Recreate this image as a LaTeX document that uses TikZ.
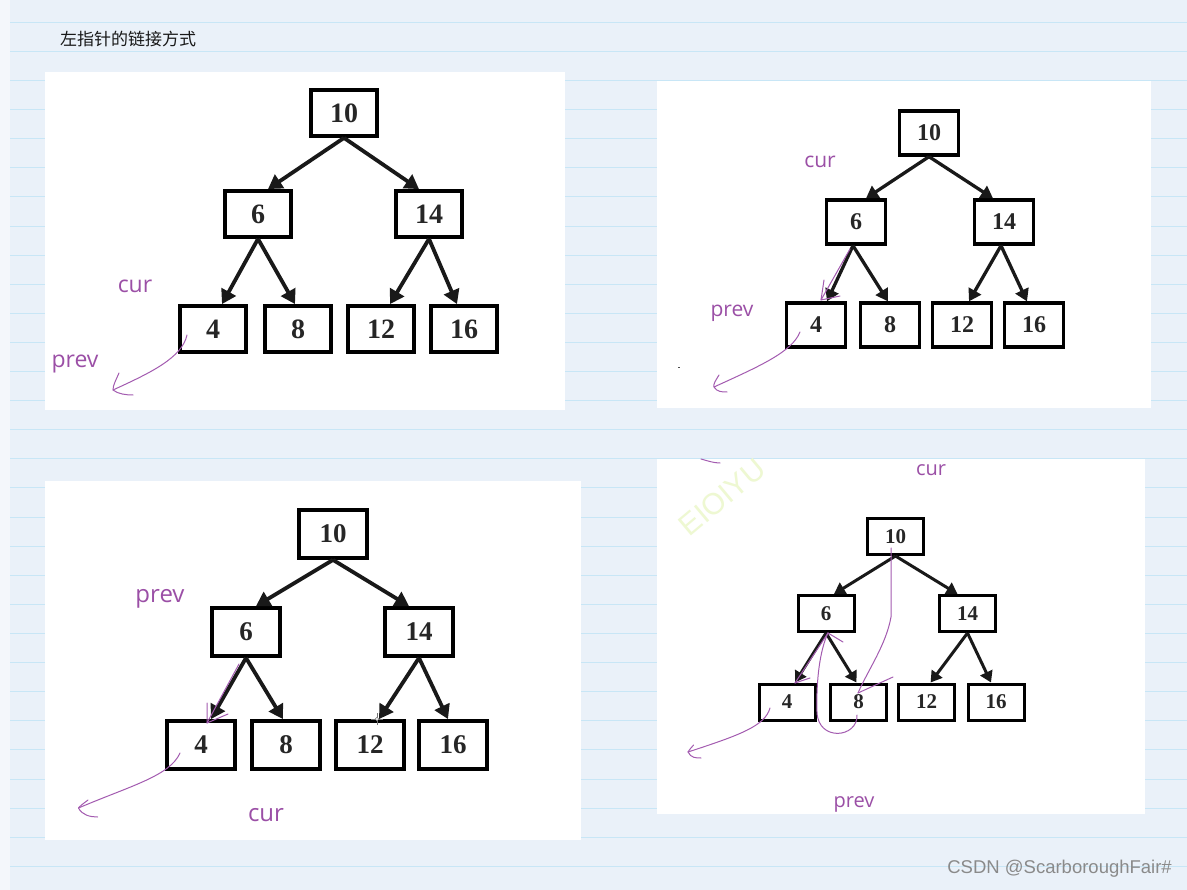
\documentclass[tikz,border=0pt]{standalone}
\usepackage{fontspec}
\setmainfont{Liberation Serif}
\newfontfamily\labelfont{Open Sans}
\newfontfamily\cjk{Noto Sans CJK SC}
\newfontfamily\wmfont{Liberation Sans}
\usetikzlibrary{arrows.meta}
\definecolor{pagebg}{HTML}{EAF1F9}
\definecolor{stripbg}{HTML}{F4F7FB}
\definecolor{rulec}{HTML}{C8E6F6}
\definecolor{penc}{HTML}{A35BB0}
\definecolor{labc}{HTML}{9B4FA6}
\definecolor{wmc}{HTML}{EEF8D2}
\definecolor{csdnc}{HTML}{8A8A8A}
\tikzset{
  tbox/.style={draw=black, fill=white, line width=3.8pt, inner sep=0pt,
    minimum width=66pt, minimum height=46pt,
    font=\bfseries\fontsize{28}{30}\selectfont, text=black!85},
  tedge/.style={line width=3.8pt, black!90, -{Triangle[length=14pt,width=16pt]}},
  pen/.style={draw=penc, line width=1pt, line cap=round, line join=round},
  lbl/.style={text=labc, inner sep=0pt, font=\labelfont\fontsize{23}{25}\selectfont},
  panel/.style={fill=white, draw=none},
  rule/.style={draw=rulec, line width=1pt},
}
\begin{document}
\begin{tikzpicture}[x=1pt,y=-1pt]
\useasboundingbox (0,0) rectangle (1187,890);
% page background
\fill[pagebg] (0,0) rectangle (1187,890);
\fill[stripbg] (0,0) rectangle (10,890);
\foreach \k in {0,...,29} {
  \draw[rule] (10,{22.4+29.1*\k}) -- (1187,{22.4+29.1*\k});
}
% title
\node[anchor=west, inner sep=0pt, font=\cjk\fontsize{17}{19}\selectfont, text=black!90] (title) at (60,39) {左指针的链接方式};

% panels
\fill[panel] (45,72) rectangle (565,410);
\fill[panel] (657,81) rectangle (1151,408);
\fill[panel] (45,481) rectangle (581,840);
\fill[panel] (657,459) rectangle (1145,814);

% ===== Panel 1 =====
\begin{scope}
\node[tbox] (a10) at (344,113) {10};
\node[tbox] (a6) at (258,214) {6};
\node[tbox] (a14) at (429,214) {14};
\node[tbox] (a4) at (213,329) {4};
\node[tbox] (a8) at (298,329) {8};
\node[tbox] (a12) at (381,329) {12};
\node[tbox] (a16) at (464,329) {16};
\draw[tedge] (a10.south) -- ([xshift=10pt]a6.north);
\draw[tedge] (a10.south) -- ([xshift=-10pt]a14.north);
\draw[tedge] (a6.south) -- ([xshift=9pt]a4.north);
\draw[tedge] (a6.south) -- ([xshift=-3pt]a8.north);
\draw[tedge] (a14.south) -- ([xshift=9pt]a12.north);
\draw[tedge] (a14.south) -- ([xshift=-7pt]a16.north);
\node[lbl] (acur) at (135,286) {cur};
\node[lbl] (aprev) at (75,364) {prev};
\coordinate (ap0) at (187,335);
\coordinate (ap1) at (113,390);
\draw[pen] (ap0) .. controls (182,358) and (150,373) .. (ap1);
\draw[pen] (119,373) .. controls (116,380) and (113,385) .. (ap1) .. controls (118,394) and (126,395) .. (133,395);
\end{scope}

% ===== Panel 2 =====
\begin{scope}[tbox/.append style={minimum width=59pt, minimum height=44pt, line width=3.3pt,
    font=\bfseries\fontsize{24}{26}\selectfont},
  tedge/.append style={line width=3.3pt, -{Triangle[length=12pt,width=14pt]}},
  lbl/.append style={font=\labelfont\fontsize{21}{23}\selectfont}]
\node[tbox] (b10) at (929,133) {10};
\node[tbox] (b6) at (856,222) {6};
\node[tbox] (b14) at (1004,222) {14};
\node[tbox] (b4) at (816,325) {4};
\node[tbox] (b8) at (890,325) {8};
\node[tbox] (b12) at (962,325) {12};
\node[tbox] (b16) at (1034,325) {16};
\draw[tedge] (b10.south) -- ([xshift=10pt]b6.north);
\draw[tedge] (b10.south) -- ([xshift=-11pt]b14.north);
\draw[tedge] ([xshift=-3pt]b6.south) -- ([xshift=11pt]b4.north);
\draw[tedge] ([xshift=-3pt]b6.south) -- ([xshift=-2pt]b8.north);
\draw[tedge] ([xshift=-3pt]b14.south) -- ([xshift=7pt]b12.north);
\draw[tedge] ([xshift=-3pt]b14.south) -- ([xshift=-7pt]b16.north);
\node[lbl] (bcur) at (820,162) {cur};
\node[lbl] (bprev) at (732,313) {prev};
\coordinate (bq0) at (850,249);
\coordinate (bq1) at (821,300);
\draw[pen] (bq0) -- (bq1);
\draw[pen] (824,280) -- (bq1) -- (840,296);
\coordinate (bp0) at (800,332);
\coordinate (bp1) at (714,387);
\draw[pen] (bp0) .. controls (792,352) and (760,366) .. (bp1);
\draw[pen] (719,375) .. controls (716,380) and (713,384) .. (bp1) .. controls (717,392) and (722,392) .. (727,392);
\draw[black!70, line width=1pt] (678,368) -- (680,368);
\end{scope}

% ===== Panel 3 =====
\begin{scope}[tbox/.append style={minimum width=68pt, minimum height=48pt,
    font=\bfseries\fontsize{27}{29}\selectfont},
  lbl/.append style={font=\labelfont\fontsize{24}{26}\selectfont}]
\node[tbox] (c10) at (333,534) {10};
\node[tbox] (c6) at (246,632) {6};
\node[tbox] (c14) at (419,632) {14};
\node[tbox] (c4) at (201,745) {4};
\node[tbox] (c8) at (286,745) {8};
\node[tbox] (c12) at (370,745) {12};
\node[tbox] (c16) at (453,745) {16};
\draw[tedge] (c10.south) -- ([xshift=10pt]c6.north);
\draw[tedge] (c10.south) -- ([xshift=-10pt]c14.north);
\draw[tedge] (c6.south) -- ([xshift=10pt]c4.north);
\draw[tedge] (c6.south) -- ([xshift=-3pt]c8.north);
\draw[tedge] (c14.south) -- ([xshift=9pt]c12.north);
\draw[tedge] (c14.south) -- ([xshift=-5pt]c16.north);
\node[lbl] (cprev) at (160,599) {prev};
\node[lbl] (ccur) at (266,815) {cur};
\coordinate (cq0) at (239,664);
\coordinate (cq1) at (207,723);
\draw[pen] (cq0) -- (cq1);
\draw[pen] (207,703) -- (cq1) -- (228,714);
\coordinate (cp0) at (180,753);
\coordinate (cp1) at (78.5,808);
\draw[pen] (cp0) .. controls (170,776) and (130,786) .. (cp1);
\draw[pen] (88,800) .. controls (84,803) and (80,806) .. (cp1) .. controls (82,815) and (90,817) .. (97.6,817);
% cursor mark
\coordinate (cur3) at (377,719);
\draw[black!55, line width=0.6pt] ([xshift=-6pt]cur3) -- ([xshift=6pt]cur3) ([yshift=-6pt]cur3) -- ([yshift=6pt]cur3);
\draw[black!55, fill=white, line width=0.6pt] (cur3) circle (1.8pt);
\end{scope}

% ===== Panel 4 =====
\node[text=wmc, rotate=40, inner sep=0pt, font=\wmfont\fontsize{30}{32}\selectfont] (wm) at (722,497) {EIOIYU};
\begin{scope}[tbox/.append style={minimum width=56pt, minimum height=36pt, line width=3pt,
    font=\bfseries\fontsize{21}{23}\selectfont},
  tedge/.append style={line width=3pt, -{Triangle[length=11pt,width=13pt]}},
  lbl/.append style={font=\labelfont\fontsize{20}{22}\selectfont}]
\node[tbox] (d10) at (895.5,536.5) {10};
\node[tbox] (d6) at (826,613.5) {6};
\node[tbox] (d14) at (967.5,613.5) {14};
\node[tbox] (d4) at (787,702) {4};
\node[tbox] (d8) at (858.5,702) {8};
\node[tbox] (d12) at (926.6,702) {12};
\node[tbox] (d16) at (996,702) {16};
\draw[tedge] (d10.south) -- ([xshift=8pt]d6.north);
\draw[tedge] (d10.south) -- ([xshift=-10pt]d14.north);
\draw[tedge] (d6.south) -- ([xshift=8pt]d4.north);
\draw[tedge] (d6.south) -- ([xshift=-2pt]d8.north);
\draw[tedge] (d14.south) -- ([xshift=4pt]d12.north);
\draw[tedge] (d14.south) -- ([xshift=-5pt]d16.north);
\node[lbl] (dcur) at (931,470) {cur};
\node[lbl] (dprev) at (854,804) {prev};
% purple annotations
\draw[pen] (701,459) .. controls (708,461) and (714,463) .. (720,463);
\coordinate (dr0) at (891,548);
\coordinate (dr1) at (858,693);
\draw[pen] (dr0) -- (891,617) .. controls (886,645) and (868,670) .. (dr1);
\draw[pen] (dr1) -- (893,677);
\coordinate (ds0) at (857,715);
\coordinate (ds1) at (828,633);
\draw[pen] (ds0) .. controls (858,738) and (818,742) .. (817,712) .. controls (816,680) and (820,650) .. (ds1);
\draw[pen] (ds1) -- (843,642);
\coordinate (dt1) at (795,683);
\draw[pen] (ds1) -- (dt1);
\draw[pen] (dt1) -- (810,678);
\coordinate (du0) at (770,708);
\coordinate (du1) at (688,752);
\draw[pen] (du0) .. controls (765,726) and (740,735) .. (du1);
\draw[pen] (693.6,745) .. controls (691,748) and (689,750) .. (du1) .. controls (691,758) and (696,758) .. (701,758);
\end{scope}

% CSDN mark
\node[anchor=east, inner sep=0pt, text=csdnc, font=\wmfont\fontsize{18.5}{20}\selectfont] (csdn) at (1172,869) {CSDN @ScarboroughFair\#};
\end{tikzpicture}
\end{document}
